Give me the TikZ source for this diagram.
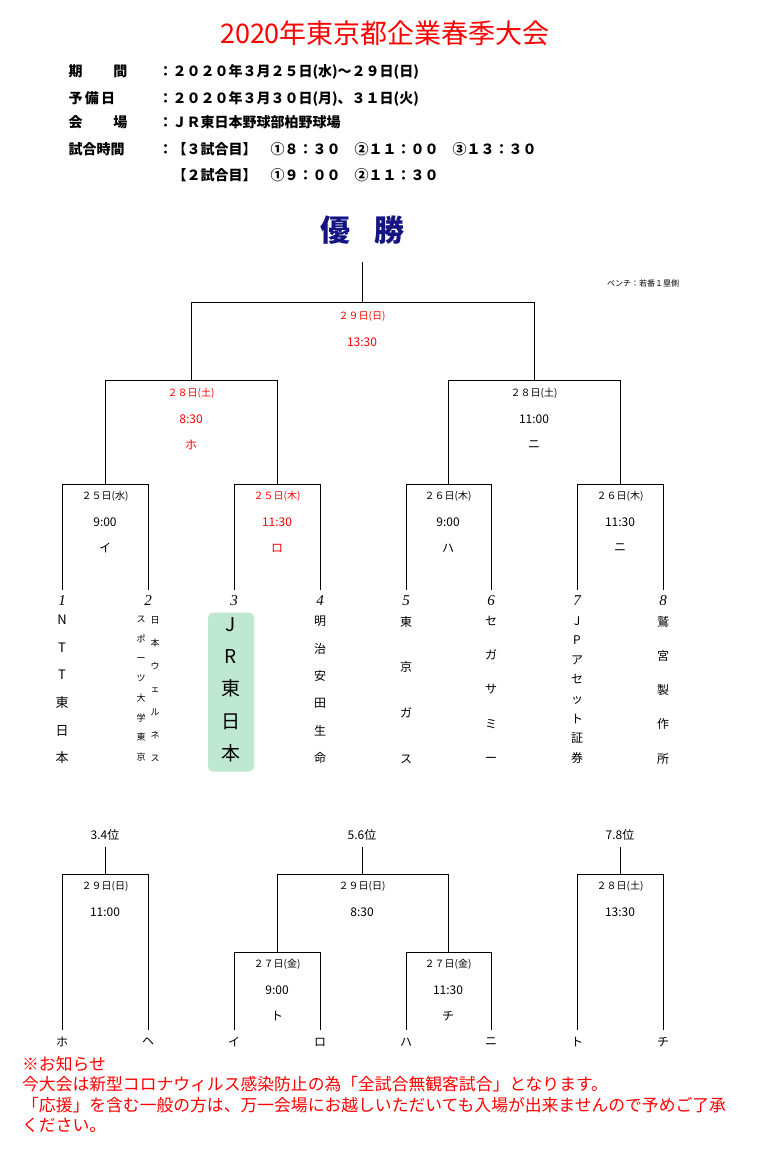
\documentclass[tikz,border=0pt]{standalone}
\usepackage{fontspec}
\setmainfont{Noto Sans CJK JP}
\newfontfamily\numfont{Liberation Serif}
\begin{document}
\begin{tikzpicture}[x=1pt,y=-1pt,
  line/.style={draw=black,line width=0.7pt},
  info/.style={anchor=base west,font=\fontsize{14}{14}\selectfont\bfseries},
  lbl/.style={font=\fontsize{12}{12}\selectfont},
  dat/.style={font=\fontsize{10}{10}\selectfont},
  ltr/.style={font=\fontsize{12}{12}\selectfont\itshape},
  num/.style={font=\fontsize{15}{15}\selectfont\numfont\itshape},
  team/.style={anchor=north,align=center,inner sep=0pt},
  hot/.style={text=red}]
  \useasboundingbox (0,0) rectangle (770,1153);
  % header
  \node[text=red,font=\fontsize{27}{27}\selectfont] (title) at (385,33) {2020年東京都企業春季大会};
  \node[info] (i1) at (65,77) {期\hspace{2.2em}間};
  \node[info] (i2) at (65,103) {予\,備\,日};
  \node[info] (i3) at (65,128) {会\hspace{2.2em}場};
  \node[info] (i4) at (65,154) {試合時間};
  \node[info] (t1) at (155,77) {：２０２０年３月２５日(水)～２９日(日)};
  \node[info] (t2) at (155,103) {：２０２０年３月３０日(月)、３１日(火)};
  \node[info] (t3) at (155,128) {：ＪＲ東日本野球部柏野球場};
  \node[info] (t4) at (155,154) {：【３試合目】\hspace{1em}①８：３０\hspace{1em}②１１：００\hspace{1em}③１３：３０};
  \node[info] (t5) at (169,180) {【２試合目】\hspace{1em}①９：００\hspace{1em}②１１：３０};
  \node[text={rgb,255:red,20;green,20;blue,130},font=\fontsize{30}{30}\selectfont\bfseries] (win) at (362,230) {優\hspace{0.8em}勝};
  \node[font=\fontsize{8}{8}\selectfont] (bench) at (643,283) {ベンチ：若番１塁側};
  % main bracket
  \coordinate (top) at (362,262);
  \draw[line] (top) -- (362,302) (191,380) |- (534,302) -- (534,380);
  \draw[line] (105,484) |- (277,380) -- (277,484);
  \draw[line] (448,484) |- (620,380) -- (620,484);
  \foreach \a/\b in {62/148,234/320,406/491,577/663}
    \draw[line] (\a,590) |- (\b,484) -- (\b,590);
  % match labels
  \node[dat,hot] (fd) at (362,316) {２９日(日)};
  \node[lbl,hot] (ft) at (362,342) {13:30};
  \node[dat,hot] (sd1) at (191,393) {２８日(土)};
  \node[lbl,hot] (st1) at (191,419) {8:30};
  \node[ltr,hot] (sl1) at (191,445) {ホ};
  \node[dat] (sd2) at (534,393) {２８日(土)};
  \node[lbl] (st2) at (534,419) {11:00};
  \node[ltr] (sl2) at (534,445) {ニ};
  \foreach \x/\d/\t/\l/\c in {105/２５日(水)/9:00/イ/black,277/２５日(木)/11:30/ロ/red,
      448/２６日(木)/9:00/ハ/black,620/２６日(木)/11:30/ニ/black}{
    \node[dat,text=\c] (d\x) at (\x,496) {\d};
    \node[lbl,text=\c] (t\x) at (\x,522) {\t};
    \node[ltr,text=\c] (l\x) at (\x,548) {\l};
  }
  % teams
  \foreach \x [count=\i] in {62,148,234,320,406,491,577,663}
    \node[num] (n\i) at (\x,601) {\i};
  \node[fill={rgb,255:red,190;green,232;blue,210},rounded corners=5pt,minimum width=46pt,minimum height=159pt] (hl) at (231,692) {};
  \node[team,font=\fontsize{13}{27.6}\selectfont] (tm1) at (62,615) {N\\T\\T\\東\\日\\本};
  \node[team,font=\fontsize{9}{23}\selectfont] (tm2a) at (155,616) {日\\本\\ウ\\ェ\\ル\\ネ\\ス};
  \node[team,font=\fontsize{9}{19.7}\selectfont] (tm2b) at (141,616) {ス\\ポ\\ー\\ツ\\大\\学\\東\\京};
  \node[team,font=\fontsize{19}{32.3}\selectfont] (tm3) at (231,617) {J\\R\\東\\日\\本};
  \node[team,font=\fontsize{12}{27.4}\selectfont] (tm4) at (320,616) {明\\治\\安\\田\\生\\命};
  \node[team,font=\fontsize{12}{45.6}\selectfont] (tm5) at (406,616) {東\\京\\ガ\\ス};
  \node[team,font=\fontsize{12}{34.2}\selectfont] (tm6) at (491,616) {セ\\ガ\\サ\\ミ\\ー};
  \node[team,font=\fontsize{12}{19.6}\selectfont] (tm7) at (577,616) {J\\P\\ア\\セ\\ッ\\ト\\証\\券};
  \node[team,font=\fontsize{12}{34.2}\selectfont] (tm8) at (663,616) {鷲\\宮\\製\\作\\所};
  % placement games
  \node[lbl] (p34) at (105,835) {3.4位};
  \node[lbl] (p56) at (362,835) {5.6位};
  \node[lbl] (p78) at (620,835) {7.8位};
  \draw[line] (p34) ++(0,12) -- (105,874);
  \draw[line] (p56) ++(0,12) -- (362,874);
  \draw[line] (p78) ++(0,12) -- (620,874);
  \draw[line] (62,1030) |- (148,874) -- (148,1030);
  \draw[line] (577,1030) |- (663,874) -- (663,1030);
  \draw[line] (277,952) |- (448,874) -- (448,952);
  \draw[line] (234,1030) |- (320,952) -- (320,1030);
  \draw[line] (406,1030) |- (491,952) -- (491,1030);
  \foreach \x/\d/\t in {105/２９日(日)/11:00,362/２９日(日)/8:30,620/２８日(土)/13:30}{
    \node[dat] (pd\x) at (\x,886) {\d};
    \node[lbl] (pt\x) at (\x,912) {\t};
  }
  \foreach \x/\t/\l in {277/9:00/ト,448/11:30/チ}{
    \node[dat] (qd\x) at (\x,964) {２７日(金)};
    \node[lbl] (qt\x) at (\x,990) {\t};
    \node[ltr] (ql\x) at (\x,1016) {\l};
  }
  \foreach \x/\l in {62/ホ,148/ヘ,234/イ,320/ロ,406/ハ,491/ニ,577/ト,663/チ}
    \node[ltr] (b\x) at (\x,1042) {\l};
  % notice
  \node[anchor=north west,align=left,text=red,inner sep=0pt,
    font=\fontsize{16.8}{20.5}\selectfont] (note) at (22,1056)
    {※お知らせ\\今大会は新型コロナウィルス感染防止の為「全試合無観客試合」となります。\\「応援」を含む一般の方は、万一会場にお越しいただいても入場が出来ませんので予めご了承\\ください。};
\end{tikzpicture}
\end{document}
